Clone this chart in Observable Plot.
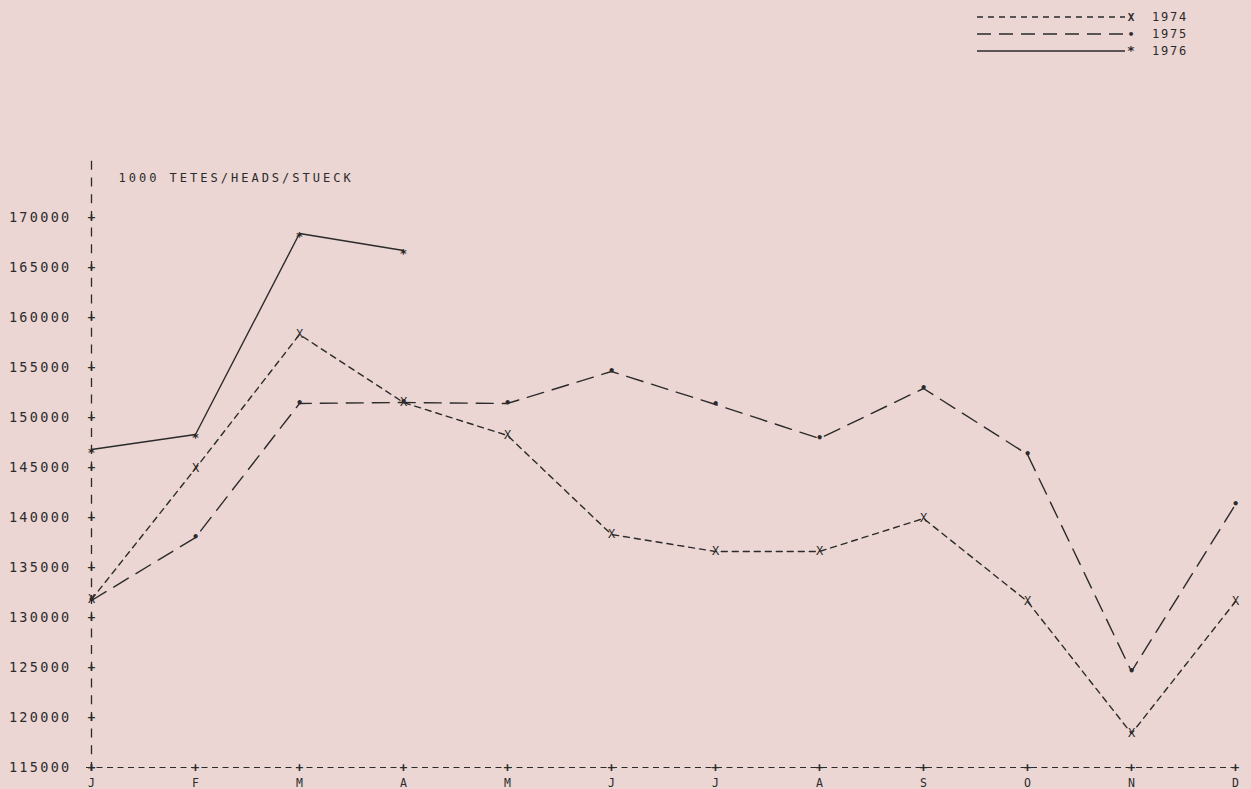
<!DOCTYPE html>
<html>
<head>
<meta charset="utf-8">
<script src="https://cdn.jsdelivr.net/npm/d3@7"></script>
<script src="https://cdn.jsdelivr.net/npm/@observablehq/plot@0.6"></script>
<style>
  html, body { margin: 0; padding: 0; background: #ebd6d4; }
  #wrap { position: relative; width: 1251px; height: 789px; overflow: hidden; }
  #legend { position: absolute; left: 970px; top: 6px; }
  svg text { font-family: "DejaVu Sans Mono", "Liberation Mono", monospace; }
  g[aria-description="ylabels"] text { letter-spacing: 2.3px; }
  g[aria-description="unit"] text { letter-spacing: 3px; }
</style>
</head>
<body>
<div id="wrap">
  <div id="chart"></div>
  <div id="legend"></div>
</div>
<script>
// ---- data ----
const months = ["J", "F", "M", "A", "M", "J", "J", "A", "S", "O", "N", "D"];
const years = ["1974", "1975", "1976"];
const v1974 = [131800, 144900, 158300, 151500, 148200, 138300, 136600, 136600, 139900, 131600, 118400, 131600];
const v1975 = [131700, 138000, 151400, 151500, 151400, 154600, 151300, 147900, 152900, 146300, 124600, 141300];
const v1976 = [146800, 148300, 168400, 166700];
const yTicks = [115000, 120000, 125000, 130000, 135000, 140000, 145000, 150000, 155000, 160000, 165000, 170000];
const unitLabel = "1000 TETES/HEADS/STUECK";

const seriesValues = {"1974": v1974, "1975": v1975, "1976": v1976};
const rows = years.flatMap(yr => seriesValues[yr].map((v, i) => ({year: yr, m: i, v})));

const ink = "#2b2b2b";
const dash = {"1974": "6,5", "1975": "17,9", "1976": null};
const sym = {"1974": "X", "1975": "•", "1976": "*"};

const marks = [
  // y axis as dashed vertical line
  Plot.ruleX([0], {y1: 115000, y2: 175700, stroke: ink, strokeWidth: 1.3, strokeDasharray: "9,7.7", strokeDashoffset: 4}),
  // x axis as dashed horizontal line
  Plot.ruleY([115000], {stroke: ink, strokeWidth: 1.2, strokeDasharray: "6,4.5"}),
  // y "+" ticks
  Plot.text(yTicks, {x: 0, y: d => d, text: () => "+", fill: ink, fontSize: 13, fontWeight: "bold"}),
  // x "+" ticks
  Plot.text(months.map((_, i) => i), {x: d => d, y: 115000, text: () => "+", fill: ink, fontSize: 13, fontWeight: "bold"}),
  // y tick labels
  Plot.text(yTicks, {x: 0, y: d => d, text: d => String(d), dx: -20, textAnchor: "end", fill: ink, fontSize: 13.5, ariaDescription: "ylabels"}),
  // x tick labels
  Plot.text(months.map((m, i) => ({m: i, t: m})), {x: "m", y: 115000, text: "t", dy: 16, fill: ink, fontSize: 11.5}),
  // unit label
  Plot.text([unitLabel], {x: 0, y: 173900, dx: 27, textAnchor: "start", fill: ink, fontSize: 12, ariaDescription: "unit"}),
];

for (const yr of years) {
  const d = rows.filter(r => r.year === yr);
  marks.push(Plot.line(d, {x: "m", y: "v", stroke: ink, strokeWidth: 1.4, strokeDasharray: dash[yr]}));
  marks.push(Plot.text(d, {x: "m", y: "v", text: () => sym[yr], fill: ink,
    fontSize: yr === "1976" ? 13 : 12, dy: yr === "1976" ? 3 : 0, fontWeight: yr === "1974" ? "normal" : "bold"}));
}

const chart = Plot.plot({
  width: 1251,
  height: 789,
  marginLeft: 86,
  marginRight: 12,
  marginTop: 160,
  marginBottom: 22,
  style: {background: "transparent", overflow: "visible"},
  x: {type: "point", domain: months.map((_, i) => i), padding: 0, axis: null},
  y: {domain: [115000, 175700], axis: null},
  marks
});
document.getElementById("chart").appendChild(chart);

// ---- legend ----
const lg = d3.create("svg").attr("width", 260).attr("height", 60);
years.forEach((yr, i) => {
  const y = 11 + i * 17;
  lg.append("line").attr("x1", 7).attr("x2", 155).attr("y1", y).attr("y2", y)
    .attr("stroke", ink).attr("stroke-width", 1.4)
    .attr("stroke-dasharray", yr === "1974" ? "6,5" : (yr === "1975" ? "14,8" : null));
  lg.append("text").attr("x", 161).attr("y", y + 4).attr("text-anchor", "middle")
    .attr("font-size", yr === "1976" ? 13 : 11).attr("font-weight", "bold").attr("fill", ink)
    .text(sym[yr]);
  lg.append("text").attr("x", 182).attr("y", y + 4).attr("font-size", 12)
    .attr("letter-spacing", "1.8px").attr("fill", ink).text(yr);
});
document.getElementById("legend").appendChild(lg.node());
</script>
</body>
</html>
